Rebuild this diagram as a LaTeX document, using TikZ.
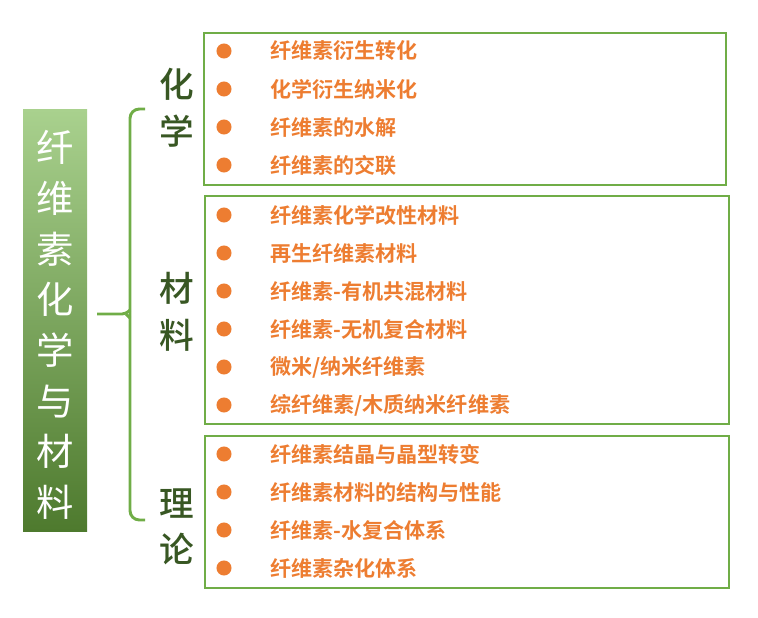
\documentclass[tikz,border=0pt]{standalone}
\usepackage{fontspec}
\setmainfont{Noto Sans CJK SC}
\newfontfamily\cjkb{Noto Sans CJK SC Bold}
\newfontfamily\cjkm{Noto Sans CJK SC Medium}
\begin{document}
\begin{tikzpicture}[x=0.75pt,y=-0.75pt]
\definecolor{grn}{HTML}{70AD47}
\definecolor{dgrn}{HTML}{385723}
\definecolor{org}{HTML}{ED7D31}
\tikzset{
  grpbox/.style={draw=grn,line width=1.5pt},
  item/.style={anchor=west,inner sep=0pt,text=org,font=\cjkb\fontsize{15.8}{16}\selectfont},
  dot/.style={circle,fill=org,inner sep=0pt,minimum size=11.3pt},
  cat/.style={inner sep=0pt,text=dgrn,align=center,font=\cjkm\fontsize{26}{35}\selectfont},
  brace/.style={draw=grn,line width=2.2pt}
}
\useasboundingbox (0,0) rectangle (758,618);
% left bar
\shade[top color={rgb,255:red,169;green,209;blue,142}, bottom color={rgb,255:red,78;green,122;blue,46}] (23,109) rectangle (87,531);
\node[inner sep=0pt,text=white,align=center,font=\fontsize{28}{38}\selectfont] (title) at (55,325) {纤\\维\\素\\化\\学\\与\\材\\料};
\coordinate (tip) at (97,314);
\coordinate (bt) at (145,109);
\coordinate (bb) at (145,520);
\draw[brace,rounded corners=7pt] (bt) -- (130,109) -- (130,520) -- (bb);
\draw[brace,rounded corners=3pt] (tip) -- (126,314) -- (130,310);
\draw[brace,rounded corners=3pt] (126,314) -- (130,318);
% categories
\node[cat] (c1) at (177,108) {化\\学};
\node[cat] (c2) at (177,312) {材\\料};
\node[cat] (c3) at (177,527) {理\\论};
% boxes
\draw[grpbox] (204,33) rectangle (726,185);
\draw[grpbox] (205,196) rectangle (729,424);
\draw[grpbox] (205,436) rectangle (729,588);
% items
\foreach \y/\t [count=\i] in {51/纤维素衍生转化,89/化学衍生纳米化,127/纤维素的水解,165/纤维素的交联,
  215/纤维素化学改性材料,253/再生纤维素材料,291/纤维素-有机共混材料,329/纤维素-无机复合材料,367/{微米/纳米纤维素},405/{综纤维素/木质纳米纤维素},
  454/纤维素结晶与晶型转变,492/纤维素材料的结构与性能,530/纤维素-水复合体系,568/纤维素杂化体系}{
  \node[dot] (d\i) at (224,\y) {};
  \node[item] (t\i) at (270,\y) {\t};
}
\end{tikzpicture}
\end{document}
